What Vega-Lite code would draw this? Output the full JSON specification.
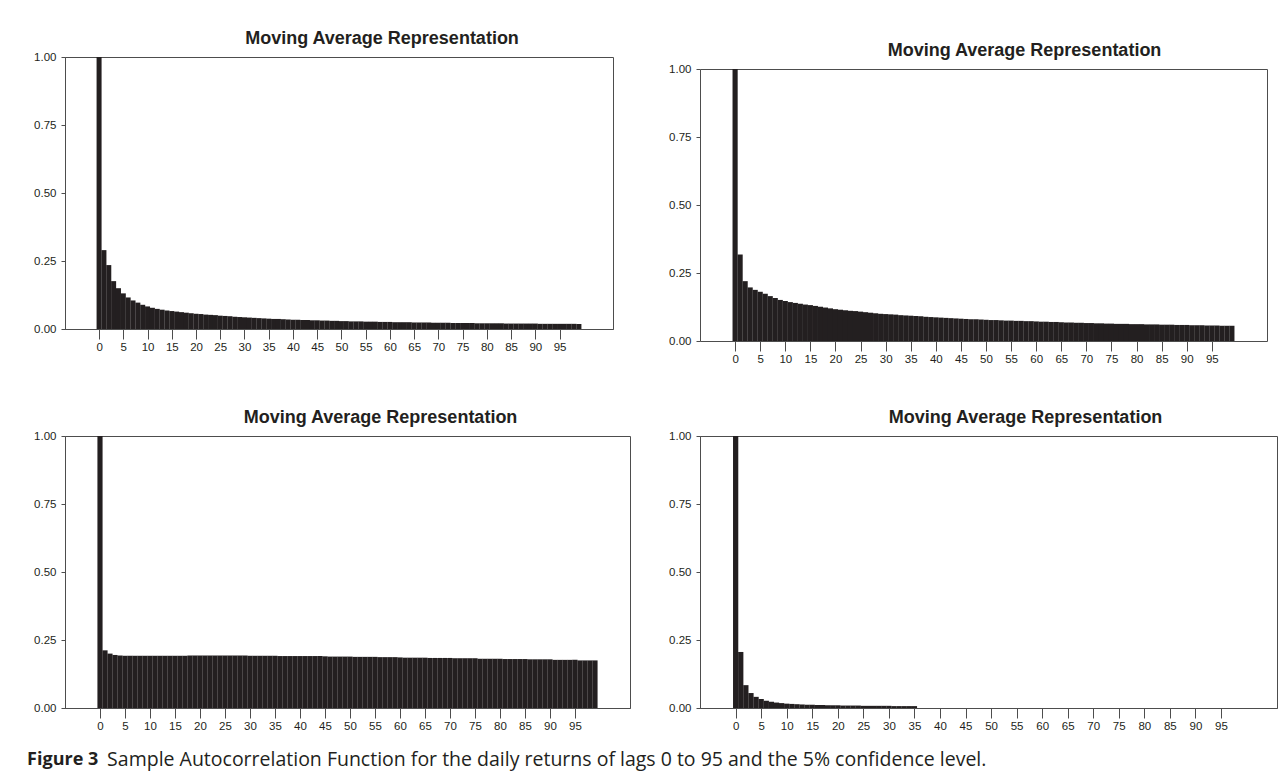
{
"$schema": "https://vega.github.io/schema/vega-lite/v6.json",
"padding": {"left": 27, "top": 29, "right": 2, "bottom": 2},
"background": "white",
"datasets": {
  "p1": [
    {"lag":0,"acf":1.000},{"lag":1,"acf":0.290},{"lag":2,"acf":0.235},{"lag":3,"acf":0.176},{"lag":4,"acf":0.150},
    {"lag":5,"acf":0.131},{"lag":6,"acf":0.116},{"lag":7,"acf":0.105},{"lag":8,"acf":0.097},{"lag":9,"acf":0.089},
    {"lag":10,"acf":0.083},{"lag":11,"acf":0.078},{"lag":12,"acf":0.074},{"lag":13,"acf":0.071},{"lag":14,"acf":0.068},
    {"lag":15,"acf":0.066},{"lag":16,"acf":0.064},{"lag":17,"acf":0.062},{"lag":18,"acf":0.060},{"lag":19,"acf":0.058},
    {"lag":20,"acf":0.056},{"lag":21,"acf":0.055},{"lag":22,"acf":0.053},{"lag":23,"acf":0.052},{"lag":24,"acf":0.051},
    {"lag":25,"acf":0.049},{"lag":26,"acf":0.048},{"lag":27,"acf":0.047},{"lag":28,"acf":0.045},{"lag":29,"acf":0.044},
    {"lag":30,"acf":0.043},{"lag":31,"acf":0.042},{"lag":32,"acf":0.041},{"lag":33,"acf":0.040},{"lag":34,"acf":0.039},
    {"lag":35,"acf":0.038},{"lag":36,"acf":0.037},{"lag":37,"acf":0.037},{"lag":38,"acf":0.036},{"lag":39,"acf":0.035},
    {"lag":40,"acf":0.034},{"lag":41,"acf":0.034},{"lag":42,"acf":0.033},{"lag":43,"acf":0.033},{"lag":44,"acf":0.032},
    {"lag":45,"acf":0.032},{"lag":46,"acf":0.031},{"lag":47,"acf":0.031},{"lag":48,"acf":0.030},{"lag":49,"acf":0.030},
    {"lag":50,"acf":0.029},{"lag":51,"acf":0.029},{"lag":52,"acf":0.028},{"lag":53,"acf":0.028},{"lag":54,"acf":0.028},
    {"lag":55,"acf":0.027},{"lag":56,"acf":0.027},{"lag":57,"acf":0.027},{"lag":58,"acf":0.026},{"lag":59,"acf":0.026},
    {"lag":60,"acf":0.026},{"lag":61,"acf":0.025},{"lag":62,"acf":0.025},{"lag":63,"acf":0.025},{"lag":64,"acf":0.025},
    {"lag":65,"acf":0.024},{"lag":66,"acf":0.024},{"lag":67,"acf":0.024},{"lag":68,"acf":0.024},{"lag":69,"acf":0.023},
    {"lag":70,"acf":0.023},{"lag":71,"acf":0.023},{"lag":72,"acf":0.023},{"lag":73,"acf":0.022},{"lag":74,"acf":0.022},
    {"lag":75,"acf":0.022},{"lag":76,"acf":0.022},{"lag":77,"acf":0.022},{"lag":78,"acf":0.021},{"lag":79,"acf":0.021},
    {"lag":80,"acf":0.021},{"lag":81,"acf":0.021},{"lag":82,"acf":0.021},{"lag":83,"acf":0.021},{"lag":84,"acf":0.020},
    {"lag":85,"acf":0.020},{"lag":86,"acf":0.020},{"lag":87,"acf":0.020},{"lag":88,"acf":0.020},{"lag":89,"acf":0.020},
    {"lag":90,"acf":0.020},{"lag":91,"acf":0.019},{"lag":92,"acf":0.019},{"lag":93,"acf":0.019},{"lag":94,"acf":0.019},
    {"lag":95,"acf":0.019},{"lag":96,"acf":0.019},{"lag":97,"acf":0.019},{"lag":98,"acf":0.019},{"lag":99,"acf":0.018}
  ],
  "p2": [
    {"lag":0,"acf":1.000},{"lag":1,"acf":0.318},{"lag":2,"acf":0.220},{"lag":3,"acf":0.197},{"lag":4,"acf":0.188},
    {"lag":5,"acf":0.181},{"lag":6,"acf":0.174},{"lag":7,"acf":0.165},{"lag":8,"acf":0.158},{"lag":9,"acf":0.151},
    {"lag":10,"acf":0.147},{"lag":11,"acf":0.143},{"lag":12,"acf":0.140},{"lag":13,"acf":0.137},{"lag":14,"acf":0.134},
    {"lag":15,"acf":0.132},{"lag":16,"acf":0.129},{"lag":17,"acf":0.126},{"lag":18,"acf":0.123},{"lag":19,"acf":0.120},
    {"lag":20,"acf":0.117},{"lag":21,"acf":0.115},{"lag":22,"acf":0.113},{"lag":23,"acf":0.111},{"lag":24,"acf":0.110},
    {"lag":25,"acf":0.108},{"lag":26,"acf":0.106},{"lag":27,"acf":0.104},{"lag":28,"acf":0.102},{"lag":29,"acf":0.100},
    {"lag":30,"acf":0.099},{"lag":31,"acf":0.098},{"lag":32,"acf":0.097},{"lag":33,"acf":0.095},{"lag":34,"acf":0.094},
    {"lag":35,"acf":0.093},{"lag":36,"acf":0.092},{"lag":37,"acf":0.091},{"lag":38,"acf":0.089},{"lag":39,"acf":0.088},
    {"lag":40,"acf":0.087},{"lag":41,"acf":0.086},{"lag":42,"acf":0.085},{"lag":43,"acf":0.084},{"lag":44,"acf":0.083},
    {"lag":45,"acf":0.082},{"lag":46,"acf":0.081},{"lag":47,"acf":0.080},{"lag":48,"acf":0.080},{"lag":49,"acf":0.079},
    {"lag":50,"acf":0.078},{"lag":51,"acf":0.077},{"lag":52,"acf":0.077},{"lag":53,"acf":0.076},{"lag":54,"acf":0.075},
    {"lag":55,"acf":0.075},{"lag":56,"acf":0.074},{"lag":57,"acf":0.074},{"lag":58,"acf":0.073},{"lag":59,"acf":0.073},
    {"lag":60,"acf":0.072},{"lag":61,"acf":0.071},{"lag":62,"acf":0.071},{"lag":63,"acf":0.070},{"lag":64,"acf":0.070},
    {"lag":65,"acf":0.069},{"lag":66,"acf":0.068},{"lag":67,"acf":0.068},{"lag":68,"acf":0.067},{"lag":69,"acf":0.067},
    {"lag":70,"acf":0.066},{"lag":71,"acf":0.066},{"lag":72,"acf":0.065},{"lag":73,"acf":0.065},{"lag":74,"acf":0.064},
    {"lag":75,"acf":0.064},{"lag":76,"acf":0.063},{"lag":77,"acf":0.063},{"lag":78,"acf":0.063},{"lag":79,"acf":0.062},
    {"lag":80,"acf":0.062},{"lag":81,"acf":0.062},{"lag":82,"acf":0.061},{"lag":83,"acf":0.061},{"lag":84,"acf":0.061},
    {"lag":85,"acf":0.060},{"lag":86,"acf":0.060},{"lag":87,"acf":0.060},{"lag":88,"acf":0.059},{"lag":89,"acf":0.059},
    {"lag":90,"acf":0.059},{"lag":91,"acf":0.058},{"lag":92,"acf":0.058},{"lag":93,"acf":0.058},{"lag":94,"acf":0.057},
    {"lag":95,"acf":0.057},{"lag":96,"acf":0.057},{"lag":97,"acf":0.056},{"lag":98,"acf":0.056},{"lag":99,"acf":0.056}
  ],
  "p3": [
    {"lag":0,"acf":1.000},{"lag":1,"acf":0.212},{"lag":2,"acf":0.200},{"lag":3,"acf":0.195},{"lag":4,"acf":0.193},
    {"lag":5,"acf":0.192},{"lag":6,"acf":0.192},{"lag":7,"acf":0.192},{"lag":8,"acf":0.192},{"lag":9,"acf":0.192},
    {"lag":10,"acf":0.192},{"lag":11,"acf":0.192},{"lag":12,"acf":0.192},{"lag":13,"acf":0.192},{"lag":14,"acf":0.192},
    {"lag":15,"acf":0.192},{"lag":16,"acf":0.192},{"lag":17,"acf":0.192},{"lag":18,"acf":0.193},{"lag":19,"acf":0.193},
    {"lag":20,"acf":0.193},{"lag":21,"acf":0.193},{"lag":22,"acf":0.193},{"lag":23,"acf":0.193},{"lag":24,"acf":0.193},
    {"lag":25,"acf":0.193},{"lag":26,"acf":0.193},{"lag":27,"acf":0.193},{"lag":28,"acf":0.193},{"lag":29,"acf":0.193},
    {"lag":30,"acf":0.192},{"lag":31,"acf":0.192},{"lag":32,"acf":0.192},{"lag":33,"acf":0.192},{"lag":34,"acf":0.192},
    {"lag":35,"acf":0.192},{"lag":36,"acf":0.191},{"lag":37,"acf":0.191},{"lag":38,"acf":0.191},{"lag":39,"acf":0.191},
    {"lag":40,"acf":0.191},{"lag":41,"acf":0.191},{"lag":42,"acf":0.191},{"lag":43,"acf":0.191},{"lag":44,"acf":0.191},
    {"lag":45,"acf":0.190},{"lag":46,"acf":0.189},{"lag":47,"acf":0.189},{"lag":48,"acf":0.189},{"lag":49,"acf":0.189},
    {"lag":50,"acf":0.189},{"lag":51,"acf":0.188},{"lag":52,"acf":0.188},{"lag":53,"acf":0.188},{"lag":54,"acf":0.188},
    {"lag":55,"acf":0.188},{"lag":56,"acf":0.187},{"lag":57,"acf":0.187},{"lag":58,"acf":0.187},{"lag":59,"acf":0.187},
    {"lag":60,"acf":0.186},{"lag":61,"acf":0.185},{"lag":62,"acf":0.185},{"lag":63,"acf":0.185},{"lag":64,"acf":0.185},
    {"lag":65,"acf":0.185},{"lag":66,"acf":0.184},{"lag":67,"acf":0.184},{"lag":68,"acf":0.184},{"lag":69,"acf":0.184},
    {"lag":70,"acf":0.184},{"lag":71,"acf":0.183},{"lag":72,"acf":0.183},{"lag":73,"acf":0.183},{"lag":74,"acf":0.183},
    {"lag":75,"acf":0.183},{"lag":76,"acf":0.181},{"lag":77,"acf":0.181},{"lag":78,"acf":0.181},{"lag":79,"acf":0.181},
    {"lag":80,"acf":0.181},{"lag":81,"acf":0.180},{"lag":82,"acf":0.180},{"lag":83,"acf":0.180},{"lag":84,"acf":0.180},
    {"lag":85,"acf":0.180},{"lag":86,"acf":0.179},{"lag":87,"acf":0.179},{"lag":88,"acf":0.179},{"lag":89,"acf":0.179},
    {"lag":90,"acf":0.179},{"lag":91,"acf":0.177},{"lag":92,"acf":0.177},{"lag":93,"acf":0.177},{"lag":94,"acf":0.177},
    {"lag":95,"acf":0.177},{"lag":96,"acf":0.175},{"lag":97,"acf":0.175},{"lag":98,"acf":0.175},{"lag":99,"acf":0.175}
  ],
  "p4": [
    {"lag":0,"acf":1.000},{"lag":1,"acf":0.206},{"lag":2,"acf":0.084},{"lag":3,"acf":0.055},{"lag":4,"acf":0.041},
    {"lag":5,"acf":0.033},{"lag":6,"acf":0.027},{"lag":7,"acf":0.023},{"lag":8,"acf":0.020},{"lag":9,"acf":0.018},
    {"lag":10,"acf":0.016},{"lag":11,"acf":0.015},{"lag":12,"acf":0.014},{"lag":13,"acf":0.013},{"lag":14,"acf":0.012},
    {"lag":15,"acf":0.012},{"lag":16,"acf":0.011},{"lag":17,"acf":0.011},{"lag":18,"acf":0.010},{"lag":19,"acf":0.010},
    {"lag":20,"acf":0.010},{"lag":21,"acf":0.009},{"lag":22,"acf":0.009},{"lag":23,"acf":0.009},{"lag":24,"acf":0.009},
    {"lag":25,"acf":0.008},{"lag":26,"acf":0.008},{"lag":27,"acf":0.008},{"lag":28,"acf":0.008},{"lag":29,"acf":0.008},
    {"lag":30,"acf":0.008},{"lag":31,"acf":0.007},{"lag":32,"acf":0.007},{"lag":33,"acf":0.007},{"lag":34,"acf":0.007},
    {"lag":35,"acf":0.007}
  ]
},
"title": {"text": "Figure 3", "orient": "bottom", "anchor": "start", "font": "Open Sans",
          "fontSize": 18, "fontWeight": "bold", "color": "#231f20", "dx": -6, "dy": -22, "offset": 4},
"spacing": 43,
"vconcat": [
  {
  "spacing": 54,
  "hconcat": [
    {
    "width": 548, "height": 272,
    "title": {"text": "Moving Average Representation", "dx": 43},
    "data": {"name": "p1"},
    "mark": {"type": "bar", "width": 5.0},
    "encoding": {
      "x": {"field": "lag", "type": "quantitative",
            "scale": {"domain": [-6, 105], "nice": false, "zero": false},
            "axis": {"values": [0,5,10,15,20,25,30,35,40,45,50,55,60,65,70,75,80,85,90,95], "tickSize": 10, "labelPadding": 2}},
      "y": {"field": "acf", "type": "quantitative",
            "scale": {"domain": [0, 1], "nice": false},
            "axis": {"values": [0, 0.25, 0.5, 0.75, 1], "format": ".2f", "tickSize": 4, "labelPadding": 5}}
    }
    },
    {
    "width": 567, "height": 284,
    "view": {"stroke": null},
    "title": {"text": "Moving Average Representation", "dx": 41, "dy": 6},
    "data": {"name": "p2"},
    "layer": [
      {
      "mark": {"type": "bar", "width": 5.15},
      "encoding": {
        "x": {"field": "lag", "type": "quantitative",
              "scale": {"domain": [-6, 105], "nice": false, "zero": false},
              "axis": {"values": [0,5,10,15,20,25,30,35,40,45,50,55,60,65,70,75,80,85,90,95], "tickSize": 10, "labelPadding": 2}},
        "y": {"field": "acf", "type": "quantitative",
              "scale": {"domain": [0, 1], "nice": false, "range": [284, 12]},
              "axis": {"values": [0, 0.25, 0.5, 0.75, 1], "format": ".2f", "tickSize": 4, "labelPadding": 5}}
      }
      },
      {
      "mark": {"type": "bar", "width": 5.15, "opacity": 0},
      "encoding": {
        "x": {"field": "lag", "type": "quantitative",
              "axis": {"orient": "top", "offset": -12, "ticks": false, "labels": false}},
        "y": {"field": "acf", "type": "quantitative",
              "axis": {"orient": "right", "ticks": false, "labels": false}}
      }
      }
    ],
    "resolve": {"axis": {"x": "independent", "y": "independent"}}
    }
  ]
  },
  {
  "spacing": 37,
  "title": {"text": "Sample Autocorrelation Function for the daily returns of lags 0 to 95 and the 5% confidence level.",
            "orient": "bottom", "anchor": "start", "font": "Open Sans", "fontSize": 19.5, "fontWeight": "normal",
            "color": "#231f20", "dx": 74, "offset": 18.5},
  "hconcat": [
    {
    "width": 565, "height": 272,
    "title": {"text": "Moving Average Representation", "dx": 33},
    "data": {"name": "p3"},
    "mark": {"type": "bar", "width": 5.15},
    "encoding": {
      "x": {"field": "lag", "type": "quantitative",
            "scale": {"domain": [-6, 105], "nice": false, "zero": false},
            "axis": {"values": [0,5,10,15,20,25,30,35,40,45,50,55,60,65,70,75,80,85,90,95], "tickSize": 10, "labelPadding": 2}},
      "y": {"field": "acf", "type": "quantitative",
            "scale": {"domain": [0, 1], "nice": false},
            "axis": {"values": [0, 0.25, 0.5, 0.75, 1], "format": ".2f", "tickSize": 4, "labelPadding": 5}}
    }
    },
    {
    "width": 577, "height": 272,
    "title": {"text": "Moving Average Representation", "dx": 37},
    "data": {"name": "p4"},
    "mark": {"type": "bar", "width": 5.25},
    "encoding": {
      "x": {"field": "lag", "type": "quantitative",
            "scale": {"domain": [-6, 105], "nice": false, "zero": false},
            "axis": {"values": [0,5,10,15,20,25,30,35,40,45,50,55,60,65,70,75,80,85,90,95], "tickSize": 10, "labelPadding": 2}},
      "y": {"field": "acf", "type": "quantitative",
            "scale": {"domain": [0, 1], "nice": false},
            "axis": {"values": [0, 0.25, 0.5, 0.75, 1], "format": ".2f", "tickSize": 4, "labelPadding": 5}}
    }
    }
  ]
  }
],
"config": {
  "view": {"stroke": "#4d4d4d", "strokeWidth": 1},
  "bar": {"color": "#231f20"},
  "axis": {"grid": false, "title": null, "labelFont": "Liberation Sans", "labelFontSize": 11.5,
           "labelColor": "#231f20", "domainColor": "#4d4d4d", "tickColor": "#4d4d4d", "labelAngle": 0},
  "title": {"font": "Liberation Sans", "fontSize": 18, "fontWeight": "bold", "color": "#231f20", "offset": 3}
}
}
